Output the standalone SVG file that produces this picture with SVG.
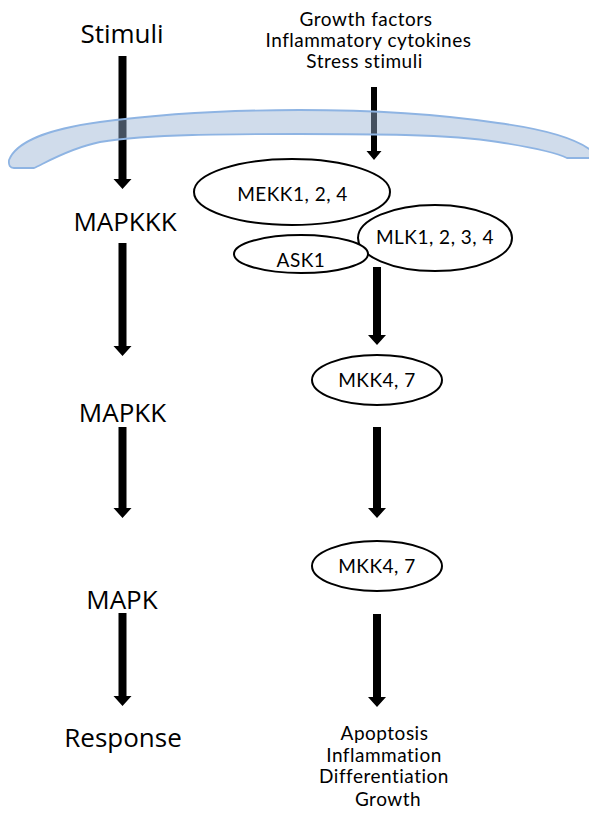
<svg xmlns="http://www.w3.org/2000/svg" width="589" height="822" viewBox="0 0 589 822">
<style>
.lbl{font-family:"Open Sans","Liberation Sans",sans-serif;font-size:26px;fill:#000;text-anchor:middle}
.sm{font-family:Lato,"Open Sans","Liberation Sans",sans-serif;font-size:19px;letter-spacing:0.5px;fill:#000;text-anchor:middle}
.ell{fill:#fff;stroke:#000;stroke-width:2}
.arr{fill:#000}
.mem{fill:rgb(151,178,211);fill-opacity:0.45;stroke:#8eb4e3;stroke-width:1.8}
</style>
<rect width="589" height="822" fill="#fff"/>
<g id="connectors">
<polygon class="arr" points="118.5,56 126.5,56 126.5,179 131.5,179 122.5,189 113.5,179 118.5,179"/>
<polygon class="arr" points="118.5,243 126.5,243 126.5,346 131.5,346 122.5,356 113.5,346 118.5,346"/>
<polygon class="arr" points="118.5,427 126.5,427 126.5,508 131.5,508 122.5,518 113.5,508 118.5,508"/>
<polygon class="arr" points="118.5,613 126.5,613 126.5,696 131.5,696 122.5,706 113.5,696 118.5,696"/>
<polygon class="arr" points="371,87 377,87 377,151 381.5,151 374,160 366.5,151 371,151"/>
<polygon class="arr" points="373,267 381,267 381,335 386,335 377,345 368,335 373,335"/>
<polygon class="arr" points="373,427 381,427 381,508 386,508 377,518 368,508 373,508"/>
<polygon class="arr" points="373,614 381,614 381,697 386,697 377,707 368,697 373,697"/>
</g>
<g id="membrane">
<path class="mem" d="M 9,160 C 15,145 40,130 100,122 C 160,114 230,110 299,110 C 368,110 438,114 498,123 C 550,130 578,140 592,151 L 592,158 L 567,158 C 555,152 530,147 498,142 C 448,134 368,134 299,134 C 230,134 150,134 100,142 C 70,148 45,163 34,168 L 14,168 Q 8,168 9,160 Z"/>
</g>
<g id="stimuli"><text class="lbl" x="122" y="43">Stimuli</text></g>
<g id="mapkkk"><text class="lbl" x="125" y="231">MAPKKK</text></g>
<g id="mapkk"><text class="lbl" x="122.5" y="422">MAPKK</text></g>
<g id="mapk"><text class="lbl" x="122" y="609">MAPK</text></g>
<g id="response"><text class="lbl" x="123" y="747">Response</text></g>
<g id="inputs">
<text class="sm" x="366" y="26">Growth factors</text>
<text class="sm" x="368.5" y="47">Inflammatory cytokines</text>
<text class="sm" x="364.5" y="68">Stress stimuli</text>
</g>
<g id="mekk"><ellipse class="ell" cx="292" cy="192" rx="98" ry="33"/><text class="sm" x="292.5" y="201">MEKK1, 2, 4</text></g>
<g id="mlk"><ellipse class="ell" cx="435" cy="238" rx="77" ry="33"/><text class="sm" x="435" y="244">MLK1, 2, 3, 4</text></g>
<g id="ask1"><ellipse class="ell" cx="301" cy="254" rx="67" ry="19"/><text class="sm" x="301" y="267">ASK1</text></g>
<g id="mkk-1"><ellipse class="ell" cx="377" cy="380" rx="65" ry="25"/><text class="sm" x="377" y="387">MKK4, 7</text></g>
<g id="mkk-2"><ellipse class="ell" cx="377" cy="566" rx="65" ry="25"/><text class="sm" x="377" y="573">MKK4, 7</text></g>
<g id="outputs">
<text class="sm" x="384.5" y="740">Apoptosis</text>
<text class="sm" x="384" y="762">Inflammation</text>
<text class="sm" x="384" y="783">Differentiation</text>
<text class="sm" x="388" y="806">Growth</text>
</g>
</svg>
